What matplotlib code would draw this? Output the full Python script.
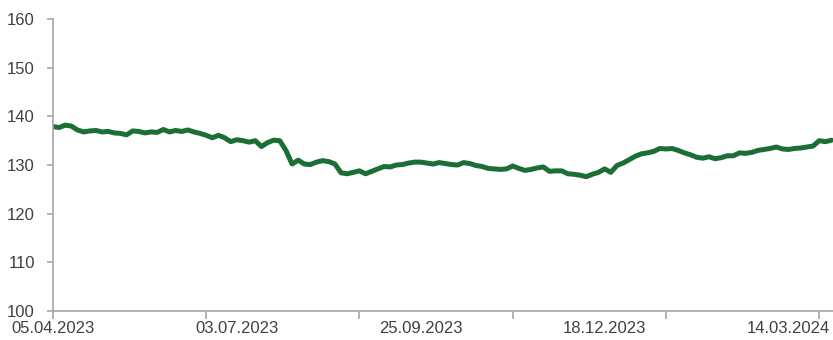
import matplotlib.pyplot as plt
import numpy as np

# index level, read every 2nd trading day starting 05.04.2023
values = [
    137.9, 137.7, 138.2, 138.0, 137.2, 136.8, 137.0, 137.1, 136.8, 136.9,
    136.6, 136.5, 136.2, 137.0, 136.9, 136.6, 136.8, 136.7, 137.3, 136.8,
    137.1, 136.9, 137.2, 136.8, 136.5, 136.1, 135.6, 136.1, 135.6, 134.8,
    135.2, 135.0, 134.7, 135.0, 133.8, 134.6, 135.1, 135.0, 133.0, 130.2,
    131.0, 130.2, 130.1, 130.6, 130.9, 130.7, 130.2, 128.4, 128.2, 128.5,
    128.8, 128.2, 128.7, 129.2, 129.7, 129.6, 130.0, 130.1, 130.4, 130.6,
    130.6, 130.4, 130.2, 130.5, 130.3, 130.1, 130.0, 130.5, 130.3, 129.9,
    129.7, 129.3, 129.2, 129.1, 129.2, 129.8, 129.3, 128.9, 129.1, 129.4,
    129.6, 128.7, 128.8, 128.8, 128.2, 128.1, 127.9, 127.6, 128.1, 128.5,
    129.2, 128.5, 129.9, 130.4, 131.1, 131.8, 132.3, 132.5, 132.8, 133.4,
    133.3, 133.4, 133.0, 132.5, 132.1, 131.6, 131.4, 131.7, 131.3, 131.5,
    131.9, 131.9, 132.5, 132.4, 132.6, 133.0, 133.2, 133.4, 133.7, 133.3,
    133.2, 133.4, 133.5, 133.7, 133.9, 135.0, 134.8, 135.1,
]
day_idx = np.arange(len(values)) * 2

label_idx = [0, 60, 120, 180, 240]
label_dates = ["05.04.2023", "03.07.2023", "25.09.2023", "18.12.2023", "14.03.2024"]
tick_idx = [0, 50, 100, 150, 200, 250]
y_ticks = [100, 110, 120, 130, 140, 150, 160]

plt.rcParams['font.family'] = ['Liberation Sans', 'DejaVu Sans']

fig = plt.figure(figsize=(8.33, 3.4), dpi=100)
ax = fig.add_axes([0.0636, 0.0853, 0.9364, 0.8587])

ax.plot(day_idx, values, color='#1b6e34', linewidth=3.6, solid_capstyle='round')

ax.set_xlim(0, 254.5)
ax.set_ylim(100, 160)

ax.set_yticks(y_ticks)
ax.xaxis.remove_overlapping_locs = False
ax.set_xticks(tick_idx)
ax.set_xticklabels([''] * len(tick_idx))
ax.set_xticks(label_idx, minor=True)
ax.set_xticklabels(label_dates, minor=True)

gray = '#a6a6a6'
for side in ['top', 'right']:
    ax.spines[side].set_visible(False)
for side in ['left', 'bottom']:
    ax.spines[side].set_color(gray)
    ax.spines[side].set_linewidth(1.2)

ax.tick_params(axis='y', which='major', direction='out', length=4, width=1.2,
               color=gray, labelsize=12, labelcolor='#404040', pad=9)
ax.tick_params(axis='x', which='major', direction='out', length=6, width=1.2,
               color=gray)
ax.tick_params(axis='x', which='minor', length=0, labelsize=12,
               labelcolor='#404040', pad=7)

fig.savefig('out.png', dpi=100)
